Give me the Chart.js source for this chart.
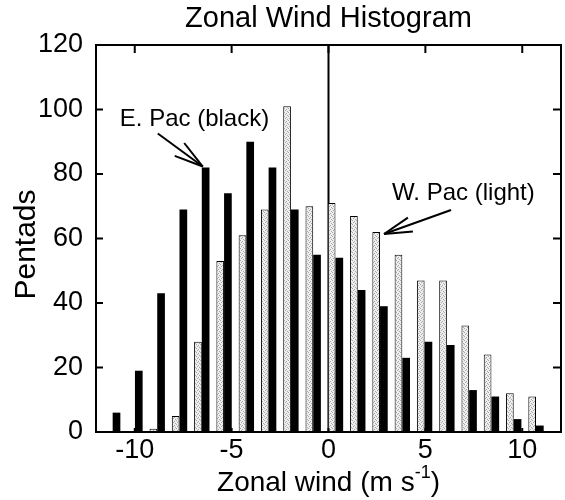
<!DOCTYPE html>
<html>
<head>
<meta charset="utf-8">
<script src="https://cdn.jsdelivr.net/npm/chart.js@4/dist/chart.umd.min.js"></script>
<style>
  html, body { margin: 0; padding: 0; background: #fff; }
  canvas { display: block; }
</style>
</head>
<body>
<canvas id="chart" width="565" height="500"></canvas>
<script>
// Histogram bins (m s^-1) and pentad counts for each basin
const binCenters = [-11.14, -9.99, -8.84, -7.69, -6.54, -5.39, -4.24, -3.09, -1.94, -0.79,
                    0.36, 1.51, 2.66, 3.81, 4.96, 6.11, 7.26, 8.41, 9.56, 10.71];
const wPacCounts = [0, 0, 1, 5, 28, 53, 61, 69, 101, 70, 71, 67, 62, 55, 47, 47, 33, 24, 12, 11];
const ePacCounts = [6, 19, 43, 69, 82, 74, 90, 82, 69, 55, 54, 44, 39, 23, 28, 27, 13, 11, 4, 2];

const xTickValues = [-10, -5, 0, 5, 10];
const yTickValues = [0, 20, 40, 60, 80, 100, 120];

const chartTitle = 'Zonal Wind Histogram';
const yTitle = 'Pentads';
const xTitleMain = 'Zonal wind (m s';
const xTitleSup = '-1';
const xTitleEnd = ')';
const ePacLabel = 'E. Pac (black)';
const wPacLabel = 'W. Pac (light)';

const FONT = '"Liberation Sans", Arial, Helvetica, sans-serif';
Chart.defaults.font.family = FONT;
Chart.defaults.color = '#000';

// speckled light-grey fill for the W. Pac bars
function speckle() {
  const c = document.createElement('canvas');
  c.width = 4; c.height = 4;
  const g = c.getContext('2d');
  g.fillStyle = '#eeeeee';
  g.fillRect(0, 0, 4, 4);
  g.fillStyle = '#a8a8a8';
  [[0, 0], [2, 1], [1, 2], [3, 3]].forEach(([x, y]) => g.fillRect(x, y, 1, 1));
  return g.createPattern(c, 'repeat');
}

function drawArrow(ctx, tip, tail, headLen, spread) {
  ctx.beginPath();
  ctx.moveTo(tail.x, tail.y);
  ctx.lineTo(tip.x, tip.y);
  ctx.stroke();
  const ang = Math.atan2(tail.y - tip.y, tail.x - tip.x);
  [-spread, spread].forEach(s => {
    ctx.beginPath();
    ctx.moveTo(tip.x, tip.y);
    ctx.lineTo(tip.x + headLen * Math.cos(ang + s), tip.y + headLen * Math.sin(ang + s));
    ctx.stroke();
  });
}

const framePlugin = {
  id: 'frame',
  beforeDatasetsDraw(chart) {
    const { ctx, chartArea: a, scales: { x } } = chart;
    const x0 = x.getPixelForValue(0);
    ctx.save();
    ctx.strokeStyle = '#000';
    ctx.lineWidth = 2;
    ctx.beginPath();
    ctx.moveTo(x0, a.top);
    ctx.lineTo(x0, a.bottom);
    ctx.stroke();
    ctx.restore();
  },
  afterDatasetsDraw(chart) {
    const { ctx, chartArea: a, scales: { x, y } } = chart;
    ctx.save();
    ctx.strokeStyle = '#000';
    ctx.lineWidth = 2;
    ctx.strokeRect(a.left, a.top, a.right - a.left, a.bottom - a.top);

    // inward tick marks on all four sides
    ctx.beginPath();
    xTickValues.forEach(v => {
      const px = x.getPixelForValue(v);
      ctx.moveTo(px, a.top); ctx.lineTo(px, a.top + 8);
      ctx.moveTo(px, a.bottom); ctx.lineTo(px, a.bottom - 4);
    });
    yTickValues.forEach(v => {
      const py = y.getPixelForValue(v);
      ctx.moveTo(a.left, py); ctx.lineTo(a.left + 7, py);
      ctx.moveTo(a.right, py); ctx.lineTo(a.right - 8, py);
    });
    ctx.stroke();

    // basin call-outs
    ctx.fillStyle = '#000';
    ctx.font = '24px ' + FONT;
    ctx.textBaseline = 'middle';
    ctx.textAlign = 'left';

    const eBar = chart.getDatasetMeta(1).data[4];
    const eTip = { x: eBar.x - eBar.width / 2 + 1, y: eBar.y - 1 };
    drawArrow(ctx, eTip, { x: eTip.x - 45, y: eTip.y - 33 }, 30, 0.27);
    ctx.fillText(ePacLabel, eTip.x - 83, eTip.y - 47);

    const wBar = chart.getDatasetMeta(0).data[12];
    const wTip = { x: wBar.x + wBar.width / 2 + 4, y: wBar.y + 2 };
    drawArrow(ctx, wTip, { x: wTip.x + 67, y: wTip.y - 24 }, 29, 0.26);
    ctx.fillText(wPacLabel, wTip.x + 8, wTip.y - 41);
    ctx.restore();
  },
  afterDraw(chart) {
    const { ctx, chartArea: a } = chart;
    const cx = (a.left + a.right) / 2;
    ctx.save();
    ctx.fillStyle = '#000';

    // chart title
    ctx.font = '29px ' + FONT;
    ctx.textAlign = 'center';
    ctx.textBaseline = 'alphabetic';
    ctx.fillText(chartTitle, cx, 27);

    // x-axis title with superscript exponent
    const mainFont = '28px ' + FONT;
    const supFont = '18px ' + FONT;
    ctx.font = mainFont;
    const w1 = ctx.measureText(xTitleMain).width;
    const w3 = ctx.measureText(xTitleEnd).width;
    ctx.font = supFont;
    const w2 = ctx.measureText(xTitleSup).width;
    let tx = cx - (w1 + w2 + w3) / 2;
    const base = 491;
    ctx.textAlign = 'left';
    ctx.font = mainFont;
    ctx.fillText(xTitleMain, tx, base);
    tx += w1;
    ctx.font = supFont;
    ctx.fillText(xTitleSup, tx, base - 13);
    tx += w2;
    ctx.font = mainFont;
    ctx.fillText(xTitleEnd, tx, base);

    // y-axis title
    ctx.translate(27, (a.top + a.bottom) / 2 + 6);
    ctx.rotate(-Math.PI / 2);
    ctx.font = '30px ' + FONT;
    ctx.textAlign = 'center';
    ctx.textBaseline = 'middle';
    ctx.fillText(yTitle, 0, 0);
    ctx.restore();
  }
};

const ctx = document.getElementById('chart').getContext('2d');
new Chart(ctx, {
  type: 'bar',
  data: {
    datasets: [
      {
        label: 'W. Pac',
        data: binCenters.map((x, i) => ({ x, y: wPacCounts[i] })),
        backgroundColor: speckle(),
        borderColor: '#000',
        borderWidth: 1,
        borderSkipped: 'start'
      },
      {
        label: 'E. Pac',
        data: binCenters.map((x, i) => ({ x, y: ePacCounts[i] })),
        backgroundColor: '#000',
        borderWidth: 0
      }
    ]
  },
  options: {
    responsive: false,
    animation: false,
    devicePixelRatio: 1,
    categoryPercentage: 0.69,
    barPercentage: 1.0,
    layout: { padding: { top: 45, right: 4, left: 0, bottom: 0 } },
    plugins: {
      legend: { display: false },
      tooltip: { enabled: false },
      title: { display: false }
    },
    scales: {
      x: {
        type: 'linear',
        min: -12,
        max: 12,
        offset: false,
        grid: { display: false, drawTicks: false, offset: false },
        border: { display: false },
        afterBuildTicks: s => { s.ticks = xTickValues.map(v => ({ value: v })); },
        afterFit: s => { s.height = 68; },
        ticks: { font: { size: 27 }, color: '#000', padding: 2, maxRotation: 0, autoSkip: false }
      },
      y: {
        type: 'linear',
        min: 0,
        max: 120,
        grid: { display: false, drawTicks: false },
        border: { display: false },
        afterBuildTicks: s => { s.ticks = yTickValues.map(v => ({ value: v })); },
        afterFit: s => { s.width = 96; },
        ticks: { font: { size: 27 }, color: '#000', padding: 13 }
      }
    }
  },
  plugins: [framePlugin]
});
</script>
</body>
</html>
